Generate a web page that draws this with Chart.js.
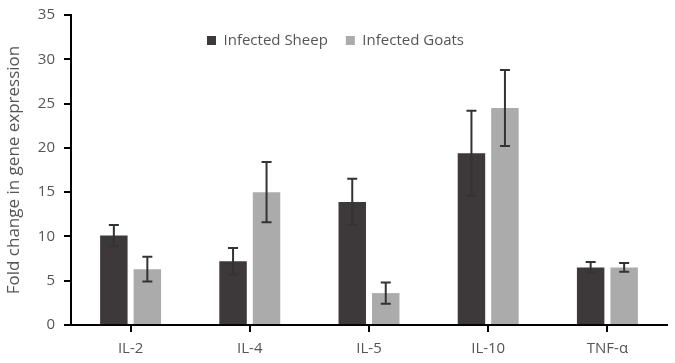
<!DOCTYPE html>
<html lang="en">
<head>
    <meta charset="UTF-8">
    <title>Fold change in gene expression</title>
    <script src="https://cdn.jsdelivr.net/npm/chart.js"></script>
    <style>
        html, body { margin: 0; padding: 0; background: #fff; }
        #wrap { width: 675px; height: 363px; }
    </style>
</head>
<body>
    <div id="wrap"><canvas id="chart"></canvas></div>

    <script>
        const cytokines = ['IL-2', 'IL-4', 'IL-5', 'IL-10', 'TNF-α'];
        const sheepValues = [10.1, 7.2, 13.9, 19.4, 6.5];
        const sheepErrors = [1.2, 1.5, 2.6, 4.8, 0.6];
        const goatValues = [6.3, 15.0, 3.6, 24.5, 6.5];
        const goatErrors = [1.4, 3.4, 1.2, 4.3, 0.5];
        const yTicks = [0, 5, 10, 15, 20, 25, 30, 35];

        const textColor = '#555';
        const fontFamily = "'Open Sans', sans-serif";

        // draws the error whiskers on top of each bar
        const errorBars = {
            id: 'errorBars',
            afterDatasetsDraw(chart) {
                const ctx = chart.ctx;
                const y = chart.scales.y;
                chart.data.datasets.forEach((ds, i) => {
                    const meta = chart.getDatasetMeta(i);
                    meta.data.forEach((bar, j) => {
                        const v = ds.data[j], e = ds.errors[j];
                        const top = y.getPixelForValue(v + e);
                        const bottom = y.getPixelForValue(v - e);
                        ctx.save();
                        ctx.strokeStyle = '#333';
                        ctx.lineWidth = 2;
                        ctx.beginPath();
                        ctx.moveTo(bar.x, top);
                        ctx.lineTo(bar.x, bottom);
                        ctx.moveTo(bar.x - 5, top);
                        ctx.lineTo(bar.x + 5, top);
                        ctx.moveTo(bar.x - 5, bottom);
                        ctx.lineTo(bar.x + 5, bottom);
                        ctx.stroke();
                        ctx.restore();
                    });
                });
            }
        };

        // legend sits inside the plot, so it takes no layout space
        const flatLegend = {
            id: 'flatLegend',
            beforeInit(chart) {
                const fit = chart.legend.fit;
                chart.legend.fit = function () {
                    fit.bind(chart.legend)();
                    this.height = 0;
                };
            },
            afterLayout(chart) {
                const lg = chart.legend;
                lg.height = 60;
                lg.bottom = lg.top + 60;
            }
        };

        new Chart(document.getElementById('chart'), {
            type: 'bar',
            data: {
                labels: cytokines,
                datasets: [{
                    label: 'Infected Sheep',
                    data: sheepValues,
                    errors: sheepErrors,
                    backgroundColor: '#3d3839'
                }, {
                    label: 'Infected Goats',
                    data: goatValues,
                    errors: goatErrors,
                    backgroundColor: '#acabab'
                }]
            },
            options: {
                responsive: true,
                maintainAspectRatio: false,
                animation: false,
                categoryPercentage: 0.562,
                barPercentage: 0.82,
                layout: { padding: { top: 0, right: 8, bottom: 0, left: 4 } },
                plugins: {
                    tooltip: { enabled: false },
                    legend: {
                        display: true,
                        labels: {
                            boxWidth: 9,
                            boxHeight: 9,
                            padding: 18,
                            color: textColor,
                            font: { family: fontFamily, size: 15 }
                        }
                    }
                },
                scales: {
                    x: {
                        afterFit: scale => { scale.height = 38; },
                        grid: {
                            display: true,
                            offset: false,
                            drawOnChartArea: false,
                            drawTicks: true,
                            tickLength: 7,
                            color: '#000',
                            lineWidth: 2
                        },
                        border: { display: true, color: '#000', width: 2 },
                        ticks: {
                            color: textColor,
                            padding: 8,
                            font: { family: fontFamily, size: 15 }
                        }
                    },
                    y: {
                        min: 0,
                        max: 35,
                        afterFit: scale => {
                            scale.width = 67;
                            scale.paddingTop = 15;
                        },
                        afterBuildTicks: axis => {
                            axis.ticks = yTicks.map(v => ({ value: v }));
                        },
                        grid: {
                            display: true,
                            drawOnChartArea: false,
                            drawTicks: true,
                            tickLength: 7,
                            color: '#000',
                            lineWidth: 2
                        },
                        border: { display: true, color: '#000', width: 2 },
                        ticks: {
                            color: textColor,
                            padding: 9,
                            font: { family: fontFamily, size: 15 }
                        },
                        title: {
                            display: true,
                            text: 'Fold change in gene expression',
                            color: textColor,
                            padding: { top: 0, bottom: 5 },
                            font: { family: fontFamily, size: 17 }
                        }
                    }
                }
            },
            plugins: [errorBars, flatLegend]
        });
    </script>
</body>
</html>
